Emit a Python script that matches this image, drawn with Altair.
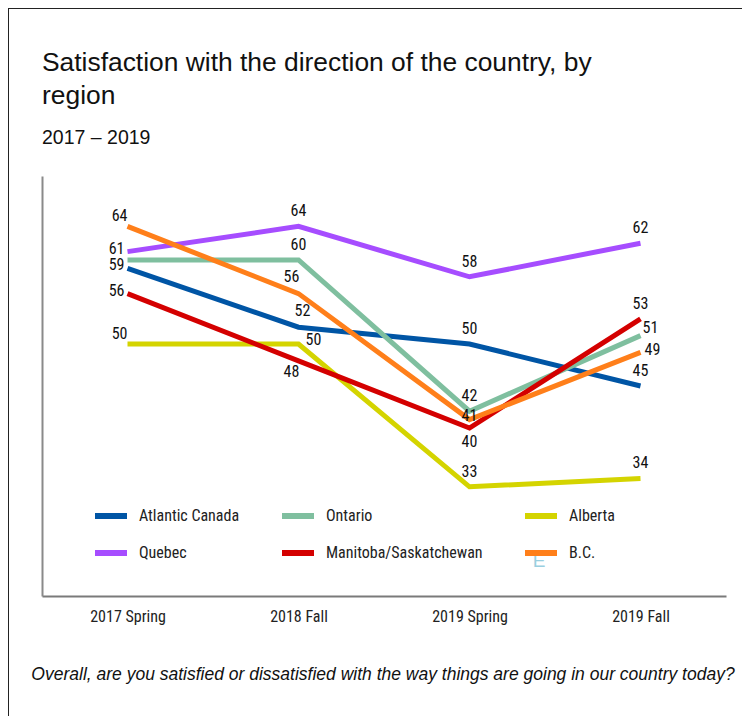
import altair as alt
import pandas as pd

periods = ["2017 Spring", "2018 Fall", "2019 Spring", "2019 Fall"]
regions = ["Atlantic Canada", "Ontario", "Alberta", "Quebec", "Manitoba/Saskatchewan", "B.C."]
colors = ["#0055A5", "#7FBF9F", "#D4D400", "#A64DFF", "#D40000", "#FF7F1A"]

atlantic = [59, 52, 50, 45]
ontario = [60, 60, 42, 51]
alberta = [50, 50, 33, 34]
quebec = [61, 64, 58, 62]
manitoba = [56, 48, 40, 53]
bc = [64, 56, 41, 49]

# label placement codes per point ("" = no label)
place_atlantic = ["L", "AR", "A", "A"]
place_ontario = ["", "A", "A", "R1"]
place_alberta = ["LU", "R", "A", "A"]
place_quebec = ["L", "A", "A", "A"]
place_manitoba = ["L", "BL", "B", "A"]
place_bc = ["LU", "AL", "C", "R2"]

title_lines = ["Satisfaction with the direction of the country, by", "region"]
subtitle = ["2017 – 2019"]
footer = ["Overall, are you satisfied or dissatisfied with the way things are going in our country today?"]

series = [atlantic, ontario, alberta, quebec, manitoba, bc]
places = [place_atlantic, place_ontario, place_alberta, place_quebec, place_manitoba, place_bc]
rows = []
for r, vals, pl in zip(regions, series, places):
    for p, v, c in zip(periods, vals, pl):
        rows.append({"region": r, "period": p, "value": v, "place": c})
df = pd.DataFrame(rows)

FONT = "Roboto Condensed, Liberation Sans Narrow, Liberation Sans"
TFONT = "Liberation Sans, Arial, sans-serif"
W, H = 684, 420

x = alt.X("period:N", sort=periods, title=None,
          scale=alt.Scale(type="point", padding=0.5),
          axis=alt.Axis(labelAngle=0, ticks=False, grid=False, domainColor="#7a7a7a",
                        domainWidth=2, labelFont=FONT, labelFontSize=16, labelColor="#222",
                        labelPadding=12))
y = alt.Y("value:Q", title=None, scale=alt.Scale(domain=[20, 70], nice=False, zero=False),
          axis=alt.Axis(labels=False, ticks=False, grid=False, domainColor="#8a8a8a",
                        domainWidth=2))
color = alt.Color("region:N", scale=alt.Scale(domain=regions, range=colors), title=None,
                  legend=alt.Legend(orient="none", legendX=50, legendY=321, columns=3,
                                    direction="horizontal",
                                    symbolType="stroke", symbolSize=1024, symbolStrokeWidth=6,
                                    labelFont=FONT, labelFontSize=16, labelColor="#222",
                                    labelOffset=9, columnPadding=30, rowPadding=6,
                                    labelLimit=300, padding=0))

base = alt.Chart(df)
lines = base.mark_line(strokeWidth=5).encode(x=x, y=y, color=color)

placements = {
    "L": dict(align="right", dx=-3, dy=-3),
    "LU": dict(align="right", dx=0, dy=-10),
    "A": dict(align="center", dx=0, dy=-15),
    "AL": dict(align="center", dx=-7, dy=-17),
    "AR": dict(align="center", dx=4, dy=-16),
    "R": dict(align="left", dx=7, dy=-4),
    "R1": dict(align="left", dx=2, dy=-8),
    "R2": dict(align="left", dx=4, dy=-2),
    "B": dict(align="center", dx=0, dy=14),
    "BL": dict(align="center", dx=-7, dy=11),
    "C": dict(align="center", dx=0, dy=-4),
}
label_layers = []
for code, kw in placements.items():
    label_layers.append(
        base.transform_filter(alt.datum.place == code)
        .mark_text(font=FONT, fontSize=16, color="#111", baseline="middle", **kw)
        .encode(x=alt.X("period:N", sort=periods), y="value:Q", text="value:Q")
    )

title_layers = []
for i, line in enumerate(title_lines):
    title_layers.append(
        alt.Chart(pd.DataFrame({"t": [line]})).mark_text(
            font=TFONT, fontSize=26.4, color="#111", align="left", baseline="alphabetic"
        ).encode(text="t:N", x=alt.value(0), y=alt.value(-105 + 33 * i))
    )

sub_mark = alt.Chart(pd.DataFrame({"t": subtitle})).mark_text(
    font=TFONT, fontSize=19.5, color="#111", align="left", baseline="alphabetic").encode(
    text="t:N", x=alt.value(0), y=alt.value(-32))

foot = alt.Chart(pd.DataFrame({"t": footer})).mark_text(
    font=TFONT, fontSize=17.5, fontStyle="italic", color="#111",
    align="center", baseline="middle").encode(
    text="t:N", x=alt.value(341), y=alt.value(H + 79))

one = pd.DataFrame({"t": [""]})
frame_left = alt.Chart(one).mark_rule(color="#222", strokeWidth=2).encode(
    x=alt.value(-34), y=alt.value(-168), y2=alt.value(H + 140))
frame_top = alt.Chart(one).mark_rule(color="#222", strokeWidth=2).encode(
    x=alt.value(-34), x2=alt.value(W + 40), y=alt.value(-168))

stray = pd.DataFrame({"t": ["É"]})
mark_e = alt.Chart(stray).mark_text(font=TFONT, fontSize=19, color="#9ACFE0",
                                    align="center", baseline="middle").encode(
    text="t:N", x=alt.value(497), y=alt.value(H - 35))

chart = alt.layer(lines, *label_layers, *title_layers, sub_mark, foot,
                  frame_left, frame_top, mark_e).properties(
    width=W, height=H,
    autosize=alt.AutoSizeParams(type="none"),
    padding={"left": 34, "top": 168, "right": 16, "bottom": 120},
).configure(background="white").configure_view(stroke=None)

chart.save("out.html", embed_options={"renderer": "svg", "actions": False})
